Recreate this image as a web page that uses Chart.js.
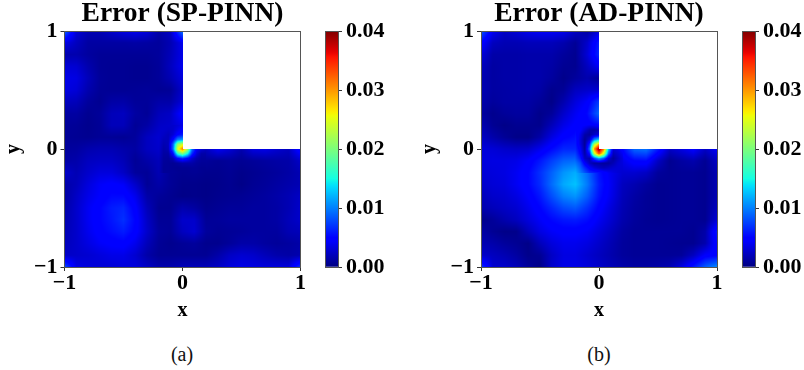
<!DOCTYPE html>
<html><head><meta charset="utf-8">
<script src="https://cdn.jsdelivr.net/npm/chart.js@4"></script>
<style>
html,body{margin:0;padding:0;background:#fff;width:804px;height:370px;overflow:hidden}
canvas{position:absolute;top:0}
.cap{position:absolute;top:343px;font:20px "Liberation Serif",serif;color:#111;width:60px;text-align:center}
</style></head><body>
<canvas id="c1" width="365" height="330" style="left:0"></canvas>
<canvas id="c2" width="366" height="330" style="left:416px"></canvas>
<canvas id="b1" width="85" height="330" style="left:320px"></canvas>
<canvas id="b2" width="67" height="330" style="left:737px"></canvas>
<div class="cap" style="left:152px">(a)</div>
<div class="cap" style="left:569px">(b)</div>
<script>
const titles = ["Error (SP-PINN)", "Error (AD-PINN)"];
const captions = ["(a)", "(b)"];
const axisTicks = [-1, 0, 1];
const barTicks = [0, 0.01, 0.02, 0.03, 0.04];
const VALUE_UNIT = 1e-4;
const gridX = [-1,-.9,-.8,-.7,-.6,-.5,-.4,-.3,-.2,-.1,0,.1,.2,.3,.4,.5,.6,.7,.8,.9,1];
const gridY = [1,.9,.8,.7,.6,.5,.4,.3,.2,.1,0,-.1,-.2,-.3,-.4,-.5,-.6,-.7,-.8,-.9,-1];
const spotX = [-.2,-.16,-.12,-.08,-.04,0,.04,.08,.12,.16,.2];
const spotY = [.2,.16,.12,.08,.04,0,-.04,-.08,-.12,-.16,-.2];

const errorSP = [
[90,30,18,18,26,34,38,32,14,24,95],
[35,22,12,12,12,12,13,12,10,18,38],
[16,16,11,8,8,8,8,8,10,20,36],
[30,28,16,8,7,7,6,6,9,22,38],
[36,34,20,9,7,7,6,6,9,18,32],
[34,30,16,8,7,7,8,9,7,8,26],
[22,20,10,6,13,14,9,9,14,14,30],
[12,12,6,9,20,22,12,8,20,24,50],
[9,8,5,8,20,20,8,13,24,26,36],
[8,7,6,8,8,7,10,22,28,16,30],
[10,11,16,18,18,15,12,22,26,10,90,32,22,40,30,16,34,36,28,22,55],
[13,15,22,24,24,19,8,14,20,8,12,14,9,7,9,7,9,11,13,14,25],
[26,18,26,32,32,24,10,8,18,8,6,7,5,5,7,4,6,8,10,13,18],
[14,20,32,42,46,42,26,8,14,8,4,4,3,4,6,3,7,9,12,15,18],
[12,24,36,44,52,52,38,14,9,6,3,4,3,5,6,7,9,11,14,18,24],
[14,26,40,50,60,64,46,20,6,6,16,12,5,7,9,9,11,11,13,18,26],
[16,26,40,50,58,68,50,24,8,8,26,26,8,9,11,11,11,11,13,20,26],
[18,26,38,48,54,60,48,26,10,8,22,28,10,7,8,9,11,11,11,18,20],
[20,26,34,42,46,48,38,20,8,5,8,10,5,5,9,14,14,11,9,11,14],
[24,26,28,32,36,36,28,14,7,7,7,7,7,14,24,28,26,20,15,13,16],
[80,36,32,30,30,32,32,24,16,16,20,20,20,24,32,36,34,32,32,32,70]
];
const spotSP = [
[24,25,26,26,30,36],
[26,26,24,26,36,46],
[27,24,20,30,50,60],
[28,20,20,50,100,110],
[27,17,20,85,210,240],
[26,14,18,90,250,310,230,95,42,30,22],
[24,12,12,48,160,200,150,65,30,14,14],
[21,10,9,18,50,65,50,28,16,10,10],
[20,9,8,7,10,14,14,14,10,8,8],
[19,8,8,7,6,7,7,8,8,6,6],
[18,8,8,8,7,6,6,7,7,6,5]
];
const errorAD = [
[85,40,24,30,38,42,42,38,24,12,30],
[50,22,18,18,20,20,20,16,8,26,60],
[32,14,14,14,15,15,15,10,6,30,65],
[22,12,14,14,15,15,13,7,6,22,42],
[18,12,14,14,15,15,11,4,10,16,8],
[18,12,13,14,15,13,5,8,22,26,28],
[16,10,13,13,13,9,3,16,32,44,72],
[12,5,9,11,11,4,9,26,40,52,90],
[18,7,3,6,6,5,20,36,46,44,50],
[24,15,8,3,3,14,34,48,54,30,14],
[32,30,26,24,26,38,52,64,64,50,60,25,50,90,95,60,24,34,46,24,42],
[32,34,34,36,44,58,74,88,92,72,38,30,36,50,52,24,6,12,16,7,24],
[30,32,34,40,50,68,88,108,118,92,56,38,28,28,24,10,7,8,8,6,18],
[26,30,32,40,50,66,92,116,126,98,60,40,22,17,11,6,7,8,8,6,18],
[20,26,28,34,44,58,80,100,108,86,56,38,20,13,8,6,7,8,8,6,18],
[16,20,24,28,38,50,64,78,84,68,48,32,18,11,8,6,7,8,8,6,22],
[4,9,16,22,32,42,52,58,60,54,40,28,16,10,7,6,7,8,8,6,30],
[14,7,3,4,20,34,42,46,46,42,32,22,12,8,8,8,8,8,6,14,58],
[18,15,10,7,3,20,32,38,38,34,26,18,10,8,8,8,7,6,6,16,52],
[26,22,18,12,4,7,24,34,34,28,22,16,10,8,8,8,8,9,22,44,48],
[70,28,26,20,10,3,26,36,36,32,26,20,15,12,12,14,18,34,58,85,105]
];
const spotAD = [
[46,45,44,40,42,50],
[50,46,30,16,14,18],
[54,38,14,10,26,34],
[58,34,8,28,100,130],
[60,36,8,65,220,290],
[64,44,10,90,300,400,310,130,30,36,50],
[74,50,14,55,230,330,240,90,20,28,40],
[84,62,22,16,75,115,85,30,10,22,34],
[96,80,44,22,12,12,10,10,18,28,32],
[108,90,66,46,32,24,20,24,28,30,30],
[118,100,82,66,60,56,48,40,34,30,28]
];

// matplotlib "jet" colormap segments: [position, channel level]
const jetR = [[0,0],[.35,0],[.66,1],[.89,1],[1,.5]];
const jetG = [[0,0],[.125,0],[.375,1],[.64,1],[.91,0],[1,0]];
const jetB = [[0,.5],[.11,1],[.34,1],[.65,0],[1,0]];
const VMAX = 0.04;

function seg(s,t){for(let i=1;i<s.length;i++){if(t<=s[i][0]){const a=s[i-1],b=s[i];return a[1]+(b[1]-a[1])*(t-a[0])/(b[0]-a[0]);}}return s[s.length-1][1];}
function jet(t){t=Math.max(0,Math.min(1,t));return [seg(jetR,t)*255,seg(jetG,t)*255,seg(jetB,t)*255];}
function cell(axis,v){
  const asc=axis[1]>axis[0];
  for(let i=0;i<axis.length-1;i++){if(asc? v<=axis[i+1] : v>=axis[i+1]) return i;}
  return axis.length-2;
}
function sample(g,ax,ay,x,y){
  const i=cell(ax,x),j=cell(ay,y);
  const a=g[j][i],b=g[j][i+1],c=g[j+1][i],d=g[j+1][i+1];
  if(a==null||b==null||c==null||d==null) return null;
  const u=(x-ax[i])/(ax[i+1]-ax[i]),w=(y-ay[j])/(ay[j+1]-ay[j]);
  return (a*(1-u)+b*u)*(1-w)+(c*(1-u)+d*u)*w;
}
function field(ds,x,y){
  const sx=spotX[0],ex=spotX[spotX.length-1];
  if(x>=sx&&x<=ex&&y>=sx&&y<=ex) return sample(ds.spot,spotX,spotY,x,y);
  return sample(ds.grid,gridX,gridY,x,y);
}
const heatPlugin={id:'heat',beforeDatasetsDraw(chart){
  const a=chart.chartArea,ds=chart.data.datasets[0],sx=chart.scales.x,sy=chart.scales.y;
  const L=Math.floor(a.left),T=Math.floor(a.top),W=Math.ceil(a.right)-L,H=Math.ceil(a.bottom)-T;
  const img=chart.ctx.createImageData(W,H);
  for(let py=0;py<H;py++)for(let px=0;px<W;px++){
    const x=sx.getValueForPixel(L+px+.5),y=sy.getValueForPixel(T+py+.5);
    const v=field(ds,x,y),k=(py*W+px)*4;
    if(v==null)continue;
    const c=jet(v*VALUE_UNIT/VMAX);
    img.data[k]=c[0];img.data[k+1]=c[1];img.data[k+2]=c[2];img.data[k+3]=255;
  }
  chart.ctx.putImageData(img,L,T);
}};
const framePlugin={id:'frame',afterDatasetsDraw(chart){
  const a=chart.chartArea,c=chart.ctx;c.save();c.strokeStyle='#555';c.lineWidth=1;
  c.strokeRect(Math.floor(a.left)+.5,Math.floor(a.top)+.5,Math.round(a.right-a.left),Math.round(a.bottom-a.top));c.restore();
}};
const tickFont={family:'"Liberation Serif"',weight:'bold',size:22,lineHeight:1};
const minus=v=>String(v).replace('-','\u2212');

function heatChart(id,title,grid,spot,leftW){
  const pts=[];
  grid.forEach((r,j)=>r.forEach((v,i)=>pts.push({x:gridX[i],y:gridY[j],v})));
  return new Chart(document.getElementById(id),{
    type:'scatter',
    data:{datasets:[{label:title,data:pts,grid,spot,pointRadius:0,showLine:false}]},
    plugins:[heatPlugin,framePlugin],
    options:{responsive:false,animation:false,devicePixelRatio:1,
      layout:{padding:{left:0,right:leftW,top:0,bottom:0}},
      plugins:{legend:{display:false},tooltip:{enabled:false},
        title:{display:true,fullSize:false,text:title,color:'#000',padding:{top:0,bottom:3.5},
          font:{family:'"Liberation Serif"',weight:'bold',size:27.5,lineHeight:1}}},
      scales:{
        x:{type:'linear',min:-1,max:1,
          afterBuildTicks:s=>{s.ticks=axisTicks.map(value=>({value}));},
          afterFit:s=>{s.height=63;},
          border:{display:false},
          grid:{drawOnChartArea:false,drawTicks:true,tickLength:4,color:'#333'},
          ticks:{font:tickFont,color:'#000',padding:1,maxRotation:0,callback:minus},
          title:{display:true,text:'x',color:'#000',padding:{top:0,bottom:9},font:{family:'"Liberation Serif"',weight:'bold',size:20,lineHeight:1}}},
        y:{type:'linear',min:-1,max:1,
          afterBuildTicks:s=>{s.ticks=axisTicks.map(value=>({value}));},
          afterFit:s=>{s.width=leftW;},
          border:{display:false},
          grid:{drawOnChartArea:false,drawTicks:true,tickLength:4,color:'#333'},
          ticks:{font:tickFont,color:'#000',padding:3,callback:minus},
          title:{display:true,text:'y',color:'#000',padding:{top:4,bottom:5},font:{family:'"Liberation Serif"',weight:'bold',size:20,lineHeight:1}}}
      }
    }
  });
}
function barChart(id,padLeft,w){
  return new Chart(document.getElementById(id),{
    type:'bar',
    data:{labels:['error'],datasets:[{data:[[0,VMAX]],barPercentage:1,categoryPercentage:1,borderWidth:0,
      backgroundColor(ctx){
        const a=ctx.chart.chartArea;if(!a)return '#00f';
        const g=ctx.chart.ctx.createLinearGradient(0,a.bottom,0,a.top);
        for(let i=0;i<=64;i++){const c=jet(i/64);g.addColorStop(i/64,`rgb(${c[0]},${c[1]},${c[2]})`);}
        return g;
      }}]},
    plugins:[framePlugin],
    options:{responsive:false,animation:false,devicePixelRatio:1,
      layout:{padding:{left:padLeft,right:0,top:31,bottom:63}},
      plugins:{legend:{display:false},tooltip:{enabled:false}},
      scales:{
        x:{display:false},
        y:{position:'right',min:0,max:VMAX,
          afterBuildTicks:s=>{s.ticks=barTicks.map(value=>({value}));},
          afterFit:s=>{s.width=w-padLeft-13;},
          border:{display:false},
          grid:{drawOnChartArea:false,drawTicks:true,tickLength:4,color:'#333'},
          ticks:{font:tickFont,color:'#000',padding:4,callback:v=>v.toFixed(2)}}
      }
    }
  });
}
heatChart('c1',titles[0],errorSP,spotSP,64.5);
heatChart('c2',titles[1],errorAD,spotAD,65);
barChart('b1',5,85);
barChart('b2',5,67);
</script>
</body></html>
